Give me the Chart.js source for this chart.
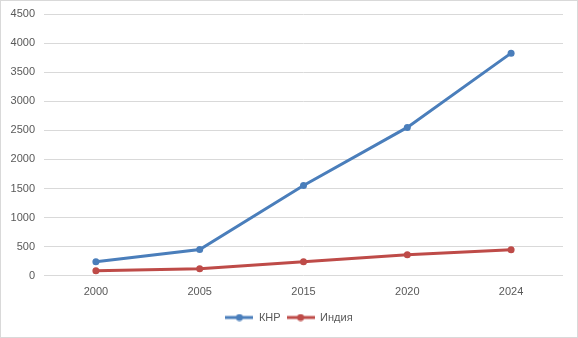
<!DOCTYPE html>
<html>
<head>
<meta charset="utf-8">
<script src="https://cdn.jsdelivr.net/npm/chart.js@4"></script>
<style>
  html, body { margin: 0; padding: 0; background: #fff; }
  #wrap { width: 578px; height: 338px; box-sizing: border-box; border: 1px solid #d9d9d9; }
  canvas { display: block; }
</style>
</head>
<body>
<div id="wrap"><canvas id="myChart" width="576" height="336"></canvas></div>
<script>
const years = ['2000', '2005', '2015', '2020', '2024'];
const china = [241, 453, 1551, 2551, 3827];
const india = [86, 121, 241, 362, 448];
const yTicks = [0, 500, 1000, 1500, 2000, 2500, 3000, 3500, 4000, 4500];

// legend swatch: line with a dot in the middle, like Excel
function swatch(color) {
    const c = document.createElement('canvas');
    c.width = 28; c.height = 8;
    const g = c.getContext('2d');
    g.strokeStyle = color;
    g.lineWidth = 3;
    g.beginPath();
    g.moveTo(0, 4); g.lineTo(28, 4);
    g.stroke();
    g.fillStyle = color;
    g.beginPath();
    g.arc(14, 4, 3.5, 0, Math.PI * 2);
    g.fill();
    return c;
}

// centre the legend on the whole canvas, not on the padded area
const legendShift = {
    id: 'legendShift',
    afterLayout: function (chart) {
        chart.legend.left += 7;
        chart.legend.right += 7;
    }
};

Chart.defaults.font.family = '"Liberation Sans", Arial, sans-serif';
Chart.defaults.font.size = 11;
Chart.defaults.color = '#595959';

const ctx = document.getElementById('myChart').getContext('2d');
const myChart = new Chart(ctx, {
    type: 'line',
    data: {
        labels: years,
        datasets: [{
            label: 'КНР',
            data: china,
            borderColor: '#4a7ebb',
            backgroundColor: '#4a7ebb',
            borderWidth: 3,
            pointRadius: 3.5,
            pointBorderWidth: 0,
            fill: false,
            tension: 0
        }, {
            label: 'Индия',
            data: india,
            borderColor: '#be4b48',
            backgroundColor: '#be4b48',
            borderWidth: 3,
            pointRadius: 3.5,
            pointBorderWidth: 0,
            fill: false,
            tension: 0
        }]
    },
    plugins: [legendShift],
    options: {
        responsive: false,
        animation: false,
        layout: { padding: { left: 0, right: 14, top: 13, bottom: 4 } },
        plugins: {
            tooltip: { enabled: false },
            legend: {
                position: 'bottom',
                labels: {
                    usePointStyle: true,
                    pointStyleWidth: 28,
                    padding: 6,
                    boxHeight: 8,
                    font: { size: 11 },
                    generateLabels: function (chart) {
                        return chart.data.datasets.map(function (ds, i) {
                            return {
                                text: ds.label,
                                pointStyle: swatch(ds.borderColor),
                                fillStyle: ds.borderColor,
                                strokeStyle: ds.borderColor,
                                lineWidth: 0,
                                fontColor: '#595959',
                                datasetIndex: i
                            };
                        });
                    }
                }
            }
        },
        scales: {
            x: {
                offset: true,
                grid: { display: false },
                border: { display: false },
                ticks: { padding: 2 },
                afterFit: function (axis) { axis.height += 5; }
            },
            y: {
                min: 0,
                max: 4500,
                afterBuildTicks: function (axis) {
                    axis.ticks = yTicks.map(function (v) { return { value: v }; });
                },
                afterFit: function (axis) {
                    axis.width = 43;
                    axis.paddingTop = 0;
                },
                grid: { color: '#d9d9d9', drawTicks: false },
                border: { display: false },
                ticks: {
                    padding: 9,
                    callback: function (value) { return String(value); }
                }
            }
        }
    }
});
</script>
</body>
</html>
